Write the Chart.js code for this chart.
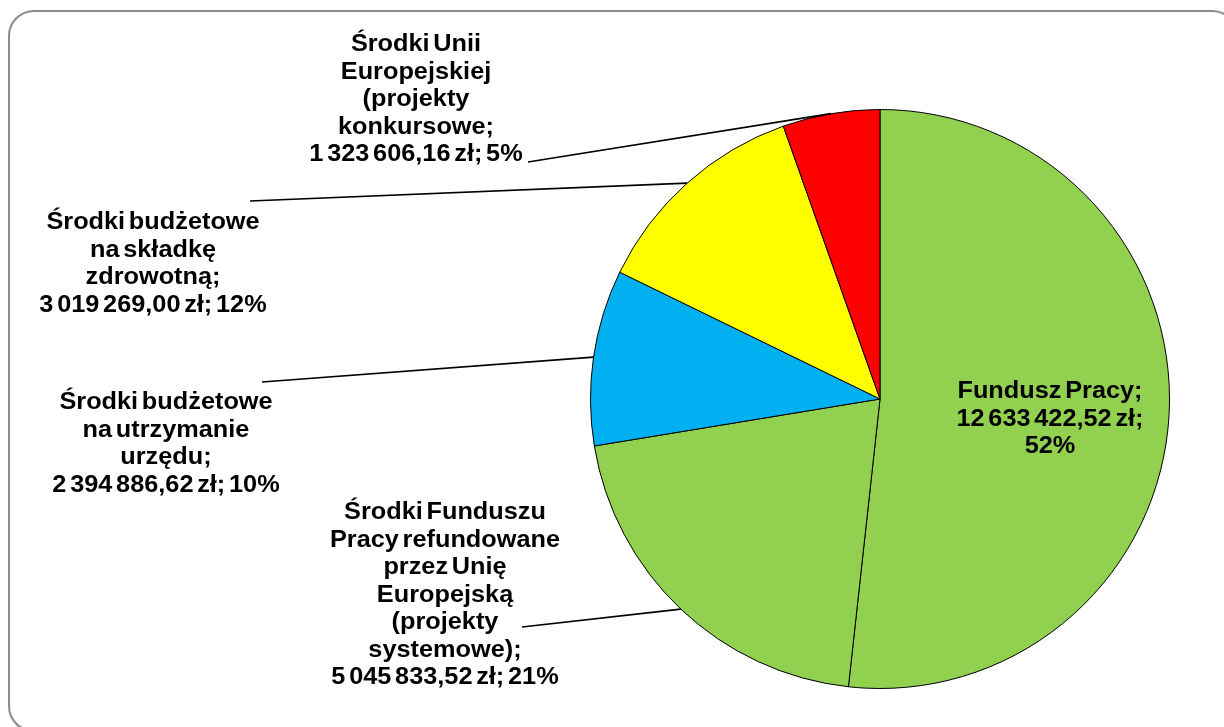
<!DOCTYPE html>
<html>
<head>
<meta charset="utf-8">
<script src="https://cdn.jsdelivr.net/npm/chart.js@4.4.1/dist/chart.umd.min.js"></script>
<style>
  html, body { margin: 0; padding: 0; background: #fff; overflow: hidden; }
  #wrap { position: relative; width: 1224px; height: 727px; }
  #frame {
    position: absolute; left: 8px; top: 10px; width: 1226px; height: 718px;
    border: 2px solid #8c8c8c; border-radius: 26px;
    box-shadow: 1px 1px 2px rgba(0,0,0,0.25);
  }
  canvas { position: absolute; left: 0; top: 0; }
</style>
</head>
<body>
<div id="wrap">
  <div id="frame"></div>
  <canvas id="chart" width="1224" height="727"></canvas>
</div>
<script>
// Data
const categoryLines = [
  ['Fundusz Pracy;'],
  ['Środki Funduszu', 'Pracy refundowane', 'przez Unię', 'Europejską', '(projekty', 'systemowe);'],
  ['Środki budżetowe', 'na utrzymanie', 'urzędu;'],
  ['Środki budżetowe', 'na składkę', 'zdrowotną;'],
  ['Środki Unii', 'Europejskiej', '(projekty', 'konkursowe;']
];
const values = [12633422.52, 5045833.52, 2394886.62, 3019269.00, 1323606.16];
const colors = ['#92D050', '#92D050', '#00B0F0', '#FFFF00', '#FF0000'];

// label layout: centre x, first line y, leader start point (null = inside slice)
const labelLayout = [
  { x: 1050, y: 392, lead: null, split: true },
  { x: 445, y: 513, lead: [522, 627] },
  { x: 166, y: 403, lead: [262, 382] },
  { x: 153, y: 223, lead: [250, 201] },
  { x: 416, y: 45, lead: [528, 162] }
];

const total = values.reduce((s, v) => s + v, 0);

function formatZl(v) {
  const parts = v.toFixed(2).split('.');
  return parts[0].replace(/\B(?=(\d{3})+(?!\d))/g, ' ') + ',' + parts[1] + ' zł';
}

// Draw labels with leader lines
const pieLabels = {
  id: 'pieLabels',
  afterDatasetsDraw(chart) {
    const ctx = chart.ctx;
    const arcs = chart.getDatasetMeta(0).data;
    ctx.save();
    ctx.font = 'bold 23px "Liberation Sans", Arial, sans-serif';
    ctx.fillStyle = '#000';
    ctx.textAlign = 'center';
    ctx.textBaseline = 'middle';
    if ('wordSpacing' in ctx) ctx.wordSpacing = '-3px';
    const lineH = 27.5;

    arcs.forEach((arc, i) => {
      const lay = labelLayout[i];
      const pct = Math.round(values[i] / total * 100) + '%';
      let lines = categoryLines[i].slice();
      if (lay.split) {
        lines.push(formatZl(values[i]) + ';', pct);
      } else {
        lines.push(formatZl(values[i]) + '; ' + pct);
      }

      if (lay.lead) {
        const mid = (arc.startAngle + arc.endAngle) / 2;
        const ex = arc.x + Math.cos(mid) * arc.outerRadius;
        const ey = arc.y + Math.sin(mid) * arc.outerRadius;
        ctx.beginPath();
        ctx.lineWidth = 1.75;
        ctx.strokeStyle = '#000';
        ctx.moveTo(lay.lead[0], lay.lead[1]);
        ctx.lineTo(ex, ey);
        ctx.stroke();
      }

      lines.forEach((t, k) => {
        ctx.save();
        ctx.translate(lay.x, lay.y + k * lineH);
        ctx.scale(1.1, 1);
        ctx.fillText(t, 0, 0);
        ctx.restore();
      });
    });
    ctx.restore();
  }
};

new Chart(document.getElementById('chart'), {
  type: 'pie',
  data: {
    labels: categoryLines.map(l => l.join(' ')),
    datasets: [{
      data: values,
      backgroundColor: colors,
      borderColor: '#000',
      borderWidth: 1
    }]
  },
  options: {
    responsive: false,
    animation: false,
    layout: { padding: { left: 590, right: 54, top: 109, bottom: 38 } },
    plugins: {
      legend: { display: false },
      tooltip: { enabled: false }
    }
  },
  plugins: [pieLabels]
});
</script>
</body>
</html>
